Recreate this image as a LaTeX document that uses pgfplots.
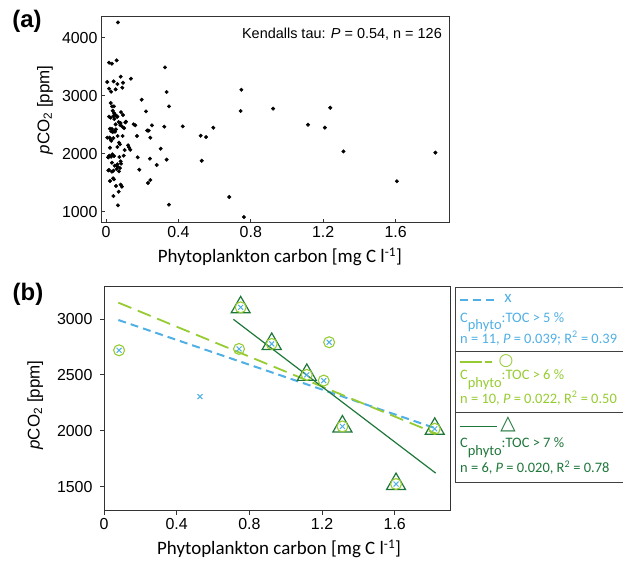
\documentclass[border=0pt]{standalone}
\usepackage{pgfplots}
\pgfplotsset{compat=1.18}
\usepackage{fontspec}
\setmainfont{Liberation Sans}
\newfontfamily\calibri{Carlito}
\newfontfamily\symfont{DejaVu Sans}

\definecolor{cblue}{RGB}{80,175,228}
\definecolor{lgreen}{RGB}{150,204,50}
\definecolor{dgreen}{RGB}{30,118,58}

\pgfplotsset{
  panel/.style={
    scale only axis,
    axis line style={line width=1bp, black!80},
    xtick={0,0.4,0.8,1.2,1.6},
    xticklabels={0,0.4,0.8,1.2,1.6},
    xtick pos=bottom, ytick pos=left,
    major tick length=4bp,
    every tick/.style={black!80, line width=0.8bp},
    tick label style={font=\fontsize{16}{18}\selectfont},
    /pgf/number format/assume math mode=true,
    /pgf/number format/1000 sep={},
    xlabel style={font=\calibri\fontsize{19}{21}\selectfont, anchor=center},
    ylabel style={font=\fontsize{17}{19}\selectfont, anchor=center},
  },
}
\tikzset{leg/.style={font=\calibri\fontsize{14.5}{16}\selectfont, anchor=base west, inner sep=0pt}}

\begin{document}
\begin{tikzpicture}
\useasboundingbox (0,0) rectangle (623bp,561bp);

% (a) all samples
\begin{axis}[panel,
  at={(101bp,338bp)}, anchor=south west,
  width=348bp, height=206bp,
  xmin=-0.0276, xmax=1.895, ymin=805, ymax=4357,
  ytick={1000,2000,3000,4000},
  tick align=inside,
  xlabel={Phytoplankton carbon [mg C l\textsuperscript{-1}]},
  ylabel={\textit{p}CO\textsubscript{2} [ppm]},
  xlabel style={at={(axis description cs:0.514,-0.165)}},
  ylabel style={at={(axis description cs:-0.161,0.549)}},
]
\addplot[only marks, mark=*, mark size=1.8pt, black] coordinates {
(0.066,4264) (0.017,3569) (0.033,3552) (0.059,3609) (0.007,3236)
(0.042,3247) (0.063,3201) (0.094,3224) (0.081,3328) (0.090,3138)
(0.017,3121) (0.028,3069) (0.053,3109) (0.138,3293)
(0.197,2931) (0.326,3489) (0.335,3063) (0.348,2816) (0.221,2730)
(0.744,2736) (0.748,3103) (0.424,2471) (0.523,2310) (0.553,2287)
(0.593,2448) (0.529,1879) (0.681,1253) (0.762,908) (0.348,1121)
(0.322,2466) (0.254,2489) (0.236,2397) (0.245,2276) (0.171,2305)
(0.302,2086) (0.335,1897) (0.243,1914) (0.280,1805) (0.184,1724)
(0.232,1494) (0.245,1546) (0.175,1937) (0.162,2489) (0.153,2506)
(0.127,2109) (0.134,2069) (0.122,2144) (0.110,2552)
(0.923,2777) (1.116,2500) (1.209,2449) (1.239,2792) (1.312,2039)
(1.607,1524) (1.820,2018) (0.083,2717)
(0.026,2874) (0.033,2816) (0.044,2816) (0.037,2741) (0.017,2638)
(0.026,2621) (0.041,2649) (0.046,2598) (0.053,2667) (0.063,2638)
(0.070,2546) (0.081,2529) (0.094,2667) (0.107,2540) (0.090,2466)
(0.079,2494) (0.053,2506) (0.033,2425) (0.022,2431) (0.037,2374)
(0.055,2420) (0.046,2385) (0.029,2385) (0.064,2305) (0.092,2305)
(0.007,2276) (0.020,2276) (0.026,2247) (0.072,2190) (0.077,2161)
(0.041,2270) (0.029,2224) (0.022,2103) (0.063,2115) (0.103,2063)
(0.098,1966) (0.074,1943) (0.044,1960) (0.018,1966) (0.028,1948)
(0.035,1989) (0.013,1937) (0.033,1845) (0.063,1816) (0.081,1868)
(0.083,1828) (0.048,1793) (0.064,1776) (0.077,1753) (0.059,1736)
(0.072,1695) (0.013,1713) (0.033,1690) (0.041,1707) (0.022,1529)
(0.044,1558) (0.039,1575) (0.081,1466) (0.088,1431) (0.055,1443)
(0.070,1345) (0.041,1270) (0.066,1109) (0.017,1718)
(0.228,2400) (0.012,1940) (0.050,2380) (0.060,2640) (0.045,2700)
(0.100,2440)
};
\end{axis}

% (b) high phytoplankton share
\begin{axis}[panel,
  at={(104bp,50bp)}, anchor=south west,
  width=346bp, height=224bp,
  xmin=0, xmax=1.904, ymin=1283, ymax=3286,
  ytick={1500,2000,2500,3000},
  tick align=outside,
  yticklabel style={xshift=-4bp},
  xlabel={Phytoplankton carbon [mg C l\textsuperscript{-1}]},
  ylabel={\textit{p}CO\textsubscript{2} [ppm]},
  xlabel style={at={(axis description cs:0.506,-0.170)}},
  ylabel style={at={(axis description cs:-0.199,0.473)}},
]
% regression lines
\addplot[cblue, line width=2bp, dash pattern=on 8bp off 5bp] coordinates {(0.079,2991) (1.822,2024)};
\addplot[lgreen, line width=1.8bp, dash pattern=on 14bp off 7bp] coordinates {(0.079,3146) (1.831,1973)};
\addplot[dgreen, line width=1.2bp] coordinates {(0.712,2997) (1.825,1622)};
% TOC > 7 %
\addplot[only marks, mark=triangle, mark size=11pt, dgreen, line width=1.2bp] coordinates {
(0.752,3104) (0.923,2777) (1.116,2500) (1.312,2039) (1.607,1524) (1.820,2018)
};
% TOC > 6 %
\addplot[only marks, mark=o, mark size=5.5pt, lgreen, line width=1.1bp] coordinates {
(0.083,2720) (0.743,2732) (0.752,3104) (0.923,2777) (1.116,2500)
(1.209,2449) (1.239,2792) (1.312,2039) (1.607,1524) (1.820,2018)
};
% TOC > 5 %
\addplot[only marks, mark=x, mark size=3.5pt, cblue, line width=1bp] coordinates {
(0.083,2720) (0.528,2306) (0.743,2732) (0.752,3104) (0.923,2777) (1.116,2500)
(1.209,2449) (1.239,2792) (1.312,2039) (1.607,1524) (1.820,2018)
};
\end{axis}

% panel letters and annotation
\node[font=\bfseries\fontsize{24}{26}\selectfont] at (27bp,540bp) {(a)};
\node[font=\bfseries\fontsize{24}{26}\selectfont] at (28bp,267bp) {(b)};
\node[font=\fontsize{14.5}{16}\selectfont, anchor=east, inner sep=0pt] at (442bp,527bp)
  {Kendalls tau: \textit{P} = 0.54, n = 126};

% legend box
\draw[black!75, line width=0.8bp] (623bp,274bp) -- (455bp,274bp) -- (455bp,79bp) -- (623bp,79bp);
\draw[black!75, line width=0.8bp] (455bp,210bp) -- (623bp,210bp);
\draw[black!75, line width=0.8bp] (455bp,149bp) -- (623bp,149bp);

% entry 1
\draw[cblue, line width=2bp, dash pattern=on 8bp off 5bp] (460bp,261bp) -- (497bp,261bp);
\node[anchor=center, inner sep=0pt, text=cblue, font=\calibri\fontsize{17}{18}\selectfont] at (508bp,263bp) {x};
\node[leg, text=cblue] at (460bp,238.3bp) {C\raisebox{-0.5em}{phyto}:TOC > 5 \%};
\node[leg, text=cblue] at (460bp,217.8bp) {n = 11, \textit{P} = 0.039; R\textsuperscript{2} = 0.39};

% entry 2
\draw[lgreen, line width=1.8bp] (460bp,199.3bp) -- (481.7bp,199.3bp);
\draw[lgreen, line width=1.8bp] (485bp,199.3bp) -- (492bp,199.3bp);
\node[anchor=center, inner sep=0pt, text=lgreen, font=\symfont\fontsize{17}{18}\selectfont] at (506bp,200bp) {○};
\node[leg, text=lgreen] at (460bp,181bp) {C\raisebox{-0.5em}{phyto}:TOC > 6 \%};
\node[leg, text=lgreen] at (460bp,157.8bp) {n = 10, \textit{P} = 0.022, R\textsuperscript{2} = 0.50};

% entry 3
\draw[dgreen, line width=1.3bp] (460bp,134.3bp) -- (497bp,134.3bp);
\node[anchor=center, inner sep=0pt, text=dgreen, font=\symfont\fontsize{20}{22}\selectfont] at (508bp,137bp) {△};
\node[leg, text=dgreen] at (460bp,113bp) {C\raisebox{-0.5em}{phyto}:TOC > 7 \%};
\node[leg, text=dgreen] at (460bp,88bp) {n = 6, \textit{P} = 0.020, R\textsuperscript{2} = 0.78};
\end{tikzpicture}
\end{document}
